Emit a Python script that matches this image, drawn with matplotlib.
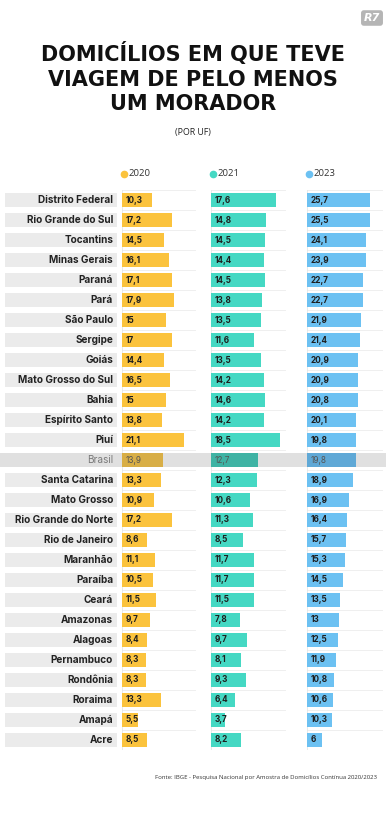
import matplotlib.pyplot as plt

ufs = ["Distrito Federal", "Rio Grande do Sul", "Tocantins", "Minas Gerais", "Paraná",
       "Pará", "São Paulo", "Sergipe", "Goiás", "Mato Grosso do Sul", "Bahia",
       "Espírito Santo", "Piuí", "Brasil", "Santa Catarina", "Mato Grosso",
       "Rio Grande do Norte", "Rio de Janeiro", "Maranhão", "Paraíba", "Ceará",
       "Amazonas", "Alagoas", "Pernambuco", "Rondônia", "Roraima", "Amapá", "Acre"]
v2020 = [10.3, 17.2, 14.5, 16.1, 17.1, 17.9, 15, 17, 14.4, 16.5, 15, 13.8, 21.1, 13.9,
         13.3, 10.9, 17.2, 8.6, 11.1, 10.5, 11.5, 9.7, 8.4, 8.3, 8.3, 13.3, 5.5, 8.5]
v2021 = [17.6, 14.8, 14.5, 14.4, 14.5, 13.8, 13.5, 11.6, 13.5, 14.2, 14.6, 14.2, 18.5, 12.7,
         12.3, 10.6, 11.3, 8.5, 11.7, 11.7, 11.5, 7.8, 9.7, 8.1, 9.3, 6.4, 3.7, 8.2]
v2023 = [25.7, 25.5, 24.1, 23.9, 22.7, 22.7, 21.9, 21.4, 20.9, 20.9, 20.8, 20.1, 19.8, 19.8,
         18.9, 16.9, 16.4, 15.7, 15.3, 14.5, 13.5, 13, 12.5, 11.9, 10.8, 10.6, 10.3, 6]
anos = ["2020", "2021", "2023"]
cores = ["#FBC33D", "#45D8C3", "#6CC1F2"]
cores_br = ["#D8AE46", "#3FB3A4", "#5FA8D6"]

W, H = 386, 826
fig = plt.figure(figsize=(W / 100, H / 100), dpi=100)
fig.patch.set_facecolor("white")

n = len(ufs)
br = ufs.index("Brasil")
rows = list(range(n))
top, bot = 190, 750
ax_b = (H - bot) / H
ax_h = (bot - top) / H

def fx(px):
    return px / W

# eixo de fundo para a faixa do Brasil
bg = fig.add_axes([0, ax_b, 1, ax_h], zorder=0)
bg.set_ylim(n - 0.5, -0.5)
bg.set_xlim(0, 1)
bg.axhspan(br - 0.36, br + 0.36, color="#E0E0E0", lw=0)
bg.axis("off")

# coluna de nomes
lab = fig.add_axes([fx(5), ax_b, fx(112), ax_h], zorder=1)
lab.patch.set_alpha(0)
lab.barh(rows, [1] * n, height=0.7, color=["#E0E0E0" if i == br else "#EBEBEB" for i in rows])
lab.set_xlim(0, 1)
lab.set_ylim(n - 0.5, -0.5)
for i, nome in enumerate(ufs):
    if i == br:
        lab.text(0.965, i, nome, ha="right", va="center", fontsize=7.2,
                 family="Inter", color="#7A7A7A")
    else:
        lab.text(0.965, i, nome, ha="right", va="center", fontsize=7.2,
                 family="Inter", fontweight="bold", color="#222222")
lab.axis("off")

paineis = [(v2020, 122, 74, 25.25), (v2021, 211, 75, 20.2), (v2023, 307, 76, 30.9)]
for k, (vals, left, width, xmax) in enumerate(paineis):
    ax = fig.add_axes([fx(left), ax_b, fx(width), ax_h], zorder=2)
    ax.patch.set_alpha(0)
    cs = [cores_br[k] if i == br else cores[k] for i in rows]
    ax.barh(rows, vals, height=0.7, color=cs)
    ax.set_xlim(0, xmax)
    ax.set_ylim(n - 0.5, -0.5)
    for y in range(n + 1):
        ax.axhline(y - 0.5, color="#EDEDED", lw=0.6, zorder=0)
    ax.axvline(0, color="#E6E6E6", lw=0.6, zorder=0)
    for i, v in enumerate(vals):
        txt = f"{v:g}".replace(".", ",")
        if i == br:
            ax.annotate(txt, (0, i), xytext=(2.8, 0), textcoords="offset points",
                        va="center", fontsize=5.9, family="Inter", color="#555555")
        else:
            ax.annotate(txt, (0, i), xytext=(2.8, 0), textcoords="offset points",
                        va="center", fontsize=5.9, family="Inter", fontweight="bold",
                        color="#1E1E1E")
    ax.plot([0.03], [1.0286], "o", ms=4.5, color=cores[k], transform=ax.transAxes,
            clip_on=False)
    ax.text(0.09, 1.0286, anos[k], transform=ax.transAxes, va="center", fontsize=6.8,
            family="Open Sans", color="#333333")
    ax.axis("off")

fig.text(0.5, 1 - 78 / H, "DOMICÍLIOS EM QUE TEVE\nVIAGEM DE PELO MENOS\nUM MORADOR",
         ha="center", va="center", fontsize=15, fontweight="bold", family="DejaVu Sans",
         color="#111111", linespacing=1.3)
fig.text(0.5, 1 - 133 / H, "(POR UF)", ha="center", va="center", fontsize=6.3,
         family="Open Sans", color="#222222")
fig.text(fx(377), 1 - 777 / H,
         "Fonte: IBGE - Pesquisa Nacional por Amostra de Domicílios Contínua 2020/2023",
         ha="right", va="center", fontsize=4.3, family="Open Sans", color="#333333")
fig.text(fx(372), 1 - 18 / H, "R7", ha="center", va="center", fontsize=8,
         fontweight="bold", style="italic", color="white",
         bbox=dict(boxstyle="round,pad=0.25", fc="#B5B5B5", ec="none"))

fig.savefig("out.png", dpi=100)
